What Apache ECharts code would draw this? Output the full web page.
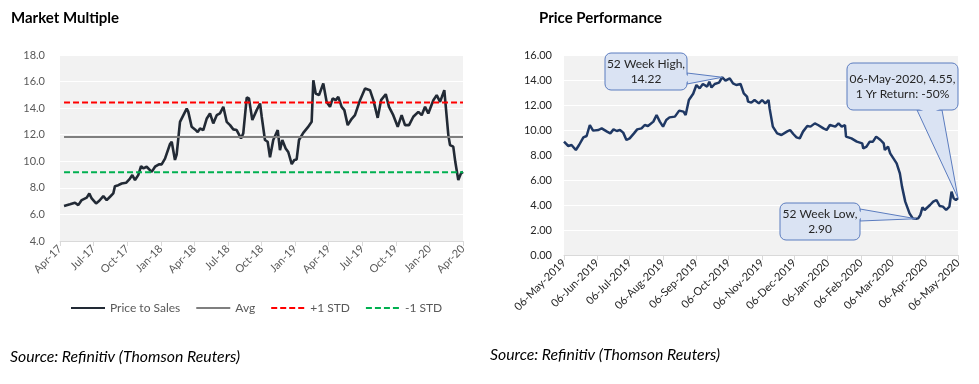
<!DOCTYPE html>
<html><head><meta charset="utf-8">
<script src="https://cdn.jsdelivr.net/npm/echarts@6/dist/echarts.min.js"></script>
<style>html,body{margin:0;padding:0;background:#fff}#c{width:979px;height:384px}</style>
</head><body><div id="c"></div>
<script>
// ---- Market Multiple (Price to Sales), x = months since Apr-2017 ----
const psMonths = [0.36,0.89,1.34,1.63,1.94,2.39,2.62,2.83,3.22,3.51,3.87,4.17,4.47,4.76,4.91,5.21,5.51,5.90,6.25,6.46,6.70,6.99,7.24,7.44,7.74,8.19,8.49,8.84,9.08,9.38,9.83,9.98,10.27,10.42,10.72,10.87,11.17,11.32,11.46,11.76,12.06,12.30,12.51,12.80,13.10,13.40,13.69,14.00,14.29,14.59,14.89,15.19,15.48,15.78,16.17,16.37,16.68,16.88,17.18,17.57,17.87,18.02,18.31,18.55,18.76,19.05,19.45,19.65,19.86,20.16,20.39,20.70,20.93,21.14,21.35,21.73,22.13,22.48,22.63,22.84,23.14,23.52,23.82,24.12,24.36,24.63,24.86,25.16,25.40,25.70,26.06,26.35,26.80,27.25,27.69,27.99,28.38,28.68,29.10,29.39,29.77,30.17,30.52,30.82,31.18,31.56,32.01,32.31,32.61,32.90,33.35,33.65,33.95,34.33,34.69,34.84,35.13,35.31,35.58,35.82,36.0];
const psValues = [6.63,6.76,6.88,6.70,7.08,7.26,7.58,7.20,6.83,7.03,7.38,7.08,7.33,7.58,8.13,8.20,8.33,8.38,8.70,8.96,8.59,8.96,9.64,9.46,9.59,9.20,9.59,9.77,9.77,10.20,11.30,11.47,10.10,10.50,12.97,13.10,13.72,13.97,13.72,12.60,12.40,12.20,12.47,12.35,13.20,13.60,12.85,13.47,13.60,14.10,12.97,12.72,12.40,12.35,11.72,12.10,14.80,14.73,13.10,13.85,14.35,13.35,11.60,11.47,10.30,11.60,12.35,10.84,11.60,10.97,10.70,9.79,10.10,10.14,11.60,12.14,12.55,12.97,16.10,15.10,14.98,15.86,14.47,14.10,14.73,14.60,14.85,14.10,13.85,12.72,13.20,13.47,14.60,15.48,15.35,14.60,13.27,14.60,15.05,14.10,13.47,12.60,13.47,12.72,12.72,13.35,13.72,13.47,14.10,13.60,14.60,14.98,14.47,15.35,11.97,11.22,11.10,9.96,8.59,9.09,9.20];
const psAvg = 11.82, psPlusStd = 14.42, psMinusStd = 9.18;
const mmTickLabels = ['Apr-17','Jul-17','Oct-17','Jan-18','Apr-18','Jul-18','Oct-18','Jan-19','Apr-19','Jul-19','Oct-19','Jan-20','Apr-20'];

// ---- Price Performance, x = days since 06-May-2019 ----
const priceDays = [0,4,7,11,14,18,21,24,27,32,35,40,43,46,49,52,55,58,61,65,68,72,75,78,83,86,89,92,95,98,103,107,111,113,116,120,123,126,129,133,135,137,140,144,147,150,154,157,160,164,167,170,171,174,177,181,184,187,190,191,194,198,202,207,210,213,216,219,222,226,229,233,236,241,244,247,252,255,258,261,262,267,272,277,278,281,284,287,290,294,297,298,301,303,306,309,312,314,317,321,324,327,329,331,333,335,340,343,346,349,352,355,358,360,362,364,366];
const priceValues = [9.07,8.72,8.80,8.40,8.80,9.41,9.52,10.40,9.95,10.00,10.13,9.87,9.73,10.05,9.92,10.00,9.79,9.20,9.33,9.73,10.05,10.13,10.40,10.32,10.67,11.20,10.67,10.27,10.80,11.01,11.07,11.55,11.47,11.20,12.40,12.90,13.60,13.33,13.68,13.47,13.87,13.40,13.68,13.79,14.22,13.95,14.13,13.73,13.60,13.68,12.93,12.67,12.27,12.19,12.40,12.13,12.40,12.13,12.40,11.73,10.27,9.73,9.60,9.87,10.00,9.68,9.41,9.33,9.87,10.32,10.27,10.53,10.40,10.13,10.00,10.40,10.27,10.53,10.27,10.40,9.47,9.33,9.07,8.93,8.53,8.67,9.07,9.07,9.47,9.20,8.93,8.40,8.67,8.13,7.73,7.33,6.53,5.47,4.27,3.33,2.93,2.90,2.93,3.20,3.81,3.60,4.00,4.27,4.40,3.92,3.87,3.60,3.87,5.07,4.53,4.40,4.55];
const ppTickDays = [0,31,61,92,123,153,184,214,245,276,305,336,366];
const ppTickLabels = ['06-May-2019','06-Jun-2019','06-Jul-2019','06-Aug-2019','06-Sep-2019','06-Oct-2019','06-Nov-2019','06-Dec-2019','06-Jan-2020','06-Feb-2020','06-Mar-2020','06-Apr-2020','06-May-2020'];
const calloutHigh = ['52 Week High,', '14.22'];
const calloutLow = ['52 Week Low,', '2.90'];
const calloutLast = ['06-May-2020, 4.55,', '1 Yr Return: -50%'];

const FONT = 'Lato, "Open Sans", sans-serif';
const chart = echarts.init(document.getElementById('c'), null, {renderer: 'canvas'});
const zip = (a, b) => a.map((x, i) => [x, b[i]]);
const flat = v => [[psMonths[0], v], [36, v]];

chart.setOption({
  animation: false,
  textStyle: {fontFamily: FONT},
  title: [
    {text: 'Market Multiple', left: 11, top: 11, padding: 0, textStyle: {fontFamily: FONT, fontWeight: 'bold', fontSize: 15, color: '#000'}},
    {text: 'Price Performance', left: 539, top: 11, padding: 0, textStyle: {fontFamily: FONT, fontWeight: 'bold', fontSize: 15, color: '#000'}}
  ],
  legend: {
    left: 70, top: 302, padding: 0, itemWidth: 34, itemHeight: 10, itemGap: 15,
    itemStyle: {opacity: 0},
    data: ['Price to Sales', 'Avg', '+1 STD', '-1 STD'],
    textStyle: {fontFamily: FONT, fontSize: 12, color: '#595959'}
  },
  grid: [
    {left: 60, top: 55, width: 403, height: 186, show: true, backgroundColor: '#f2f2f2', borderWidth: 0},
    {left: 564, top: 55, width: 394, height: 200, show: true, backgroundColor: '#f2f2f2', borderWidth: 0}
  ],
  xAxis: [
    {type: 'value', gridIndex: 0, min: 0, max: 36, interval: 3,
     axisLine: {show: true, lineStyle: {color: '#d9d9d9'}},
     axisTick: {show: true, length: 5, lineStyle: {color: '#d9d9d9'}},
     splitLine: {show: false},
     axisLabel: {rotate: 45, margin: 6, fontSize: 11, color: '#595959', fontFamily: FONT,
       formatter: v => mmTickLabels[Math.round(v / 3)]}},
    {type: 'value', gridIndex: 1, min: 0, max: 366,
     axisLine: {show: true, lineStyle: {color: '#d9d9d9'}},
     axisTick: {show: true, length: 5, lineStyle: {color: '#d9d9d9'}, customValues: ppTickDays},
     splitLine: {show: false},
     axisLabel: {rotate: 45, margin: 6, fontSize: 11, color: '#262626', fontFamily: FONT,
       customValues: ppTickDays,
       formatter: v => ppTickLabels[ppTickDays.indexOf(v)]}}
  ],
  yAxis: [
    {type: 'value', gridIndex: 0, min: 4, max: 18, interval: 2,
     axisLine: {show: false}, axisTick: {show: false},
     splitLine: {lineStyle: {color: '#ffffff', width: 1}},
     axisLabel: {margin: 15, fontSize: 11, color: '#595959', fontFamily: FONT, formatter: v => v.toFixed(1)}},
    {type: 'value', gridIndex: 1, min: 0, max: 16, interval: 2,
     axisLine: {show: false}, axisTick: {show: false},
     splitLine: {lineStyle: {color: '#ffffff', width: 1}},
     axisLabel: {margin: 12, fontSize: 11, color: '#262626', fontFamily: FONT, formatter: v => v.toFixed(2)}}
  ],
  series: [
    {name: 'Price to Sales', type: 'line', xAxisIndex: 0, yAxisIndex: 0, symbol: 'none',
     data: zip(psMonths, psValues), color: '#222a35', lineStyle: {width: 2.6, color: '#222a35'}},
    {name: 'Avg', type: 'line', xAxisIndex: 0, yAxisIndex: 0, symbol: 'none',
     data: flat(psAvg), color: '#7f7f7f', lineStyle: {width: 2, color: '#7f7f7f'}},
    {name: '+1 STD', type: 'line', xAxisIndex: 0, yAxisIndex: 0, symbol: 'none',
     data: flat(psPlusStd), color: '#ff0000', lineStyle: {width: 2, color: '#ff0000', type: [6, 3]}},
    {name: '-1 STD', type: 'line', xAxisIndex: 0, yAxisIndex: 0, symbol: 'none',
     data: flat(psMinusStd), color: '#00b050', lineStyle: {width: 2, color: '#00b050', type: [6, 3]}},
    {name: 'Price', type: 'line', xAxisIndex: 1, yAxisIndex: 1, symbol: 'none',
     data: zip(priceDays, priceValues), color: '#1f3864', lineStyle: {width: 2.5, color: '#1f3864'}}
  ]
});

// ---- callouts anchored at data points ----
const iMax = priceValues.indexOf(Math.max(...priceValues));
const iMin = priceValues.indexOf(Math.min(...priceValues));
const iLast = priceValues.length - 1;
const px = i => chart.convertToPixel({gridIndex: 1}, [priceDays[i], priceValues[i]]);
const FILL = '#dae3f3', STROKE = '#5b7cbf';

function callout(box, base, tip, lines) {
  const [x, y, w, h] = box;
  const els = [];
  els.push({type: 'polygon', z: 100, shape: {points: [base[0], base[1], tip]}, style: {fill: FILL, stroke: STROKE, lineWidth: 1}});
  els.push({type: 'rect', z: 101, shape: {x, y, width: w, height: h, r: 6}, style: {fill: FILL, stroke: STROKE, lineWidth: 1}});
  const b0 = base[0], b1 = base[1];
  const vert = b0[0] === b1[0];
  const c0 = vert ? [b0[0] - 1.5, b0[1] + 1] : [b0[0] + 1, b0[1] - 1.5];
  const c1 = vert ? [b1[0] - 1.5, b1[1] - 1] : [b1[0] - 1, b1[1] - 1.5];
  const c2 = vert ? [b0[0] + 4, (b0[1] + b1[1]) / 2] : [(b0[0] + b1[0]) / 2, b0[1] + 4];
  els.push({type: 'polygon', z: 102, shape: {points: [c0, c1, c2]}, style: {fill: FILL}});
  els.push({type: 'text', z: 103, style: {x: x + w / 2, y: y + h / 2, text: lines.join('\n'), align: 'center', verticalAlign: 'middle', fontFamily: FONT, fontSize: 12, lineHeight: 15, fill: '#262626'}});
  return els;
}

const graphics = [];
graphics.push(...callout([605, 53, 82, 37], [[687, 73], [687, 84]], px(iMax), calloutHigh));
graphics.push(...callout([780, 203, 80, 37], [[860, 209], [860, 221]], px(iMin), calloutLow));
graphics.push(...callout([847, 63, 111, 47], [[917, 110], [942, 110]], px(iLast), calloutLast));
graphics.push({type: 'text', left: 10, top: 349, style: {text: 'Source: Refinitiv (Thomson Reuters)', fontFamily: FONT, fontStyle: 'italic', fontSize: 15.8, fill: '#000'}});
graphics.push({type: 'text', left: 490, top: 347, style: {text: 'Source: Refinitiv (Thomson Reuters)', fontFamily: FONT, fontStyle: 'italic', fontSize: 15.8, fill: '#000'}});
chart.setOption({graphic: graphics});
</script>
</body></html>
